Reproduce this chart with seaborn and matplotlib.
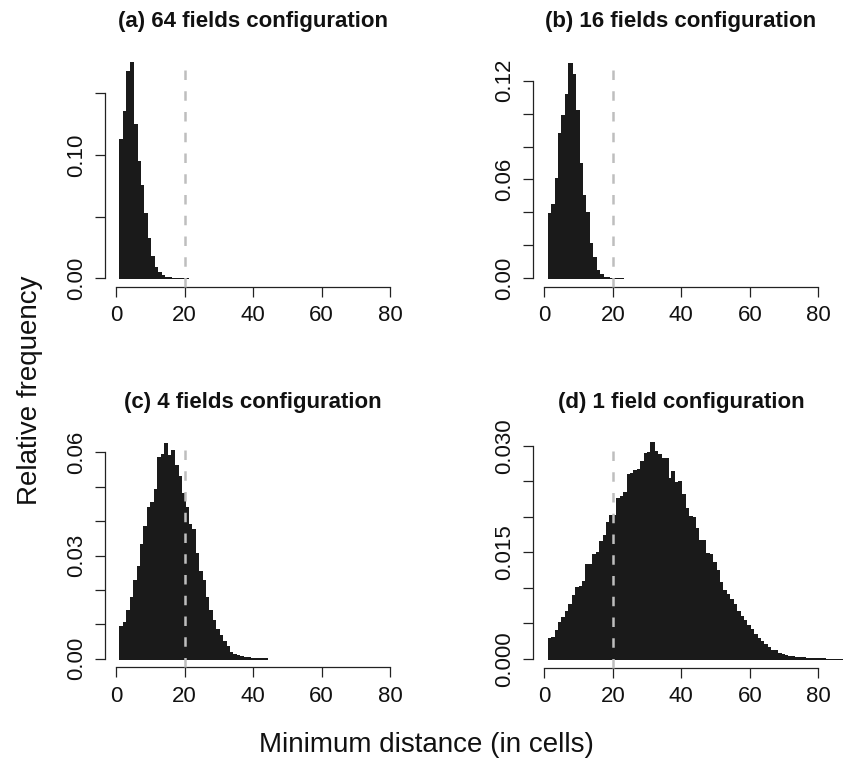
import numpy as np
import pandas as pd
import matplotlib
matplotlib.use("Agg")
import matplotlib.pyplot as plt
import seaborn as sns

# ---------------- data (relative frequency per 1-cell bin, bins start at 1) -------------
freq_a = [0.113, 0.136, 0.168, 0.175, 0.125, 0.095, 0.076, 0.053, 0.033, 0.018,
          0.0095, 0.0054, 0.0027, 0.0014, 0.0008, 0.0005, 0.0003, 0.0002, 0.0001, 0.0001]

freq_b = [0.0394, 0.045, 0.061, 0.088, 0.099, 0.112, 0.131, 0.124, 0.102, 0.070,
          0.0505, 0.040, 0.0216, 0.0127, 0.005, 0.0024, 0.001, 0.0006, 0.0003, 0.0002,
          0.0001, 0.0001]

freq_c = [0.0096, 0.0108, 0.0141, 0.018, 0.0229, 0.0269, 0.0332, 0.0386, 0.0442, 0.0456,
          0.0492, 0.0587, 0.0595, 0.0626, 0.0592, 0.0607, 0.0563, 0.0531, 0.0481, 0.044,
          0.0393, 0.0376, 0.0306, 0.0256, 0.0229, 0.018, 0.0141, 0.0112, 0.0087, 0.0069,
          0.0052, 0.0037, 0.002, 0.0014, 0.001, 0.0007, 0.0006, 0.0004, 0.0003, 0.0002,
          0.0002, 0.0001, 0.0001]

freq_d = [0.0029, 0.0031, 0.0041, 0.0052, 0.0059, 0.0067, 0.0078, 0.009, 0.0101, 0.0103,
          0.011, 0.0133, 0.0134, 0.0147, 0.015, 0.0166, 0.0174, 0.0192, 0.0202, 0.0203,
          0.0226, 0.0229, 0.0235, 0.026, 0.0261, 0.0266, 0.0267, 0.0279, 0.029, 0.0291,
          0.0305, 0.0292, 0.0288, 0.0283, 0.0282, 0.0254, 0.0265, 0.0249, 0.025, 0.0232,
          0.0213, 0.0201, 0.02, 0.0184, 0.0168, 0.0167, 0.0149, 0.0147, 0.0137, 0.0125,
          0.0109, 0.0097, 0.0092, 0.0084, 0.0077, 0.0068, 0.0061, 0.0055, 0.0048, 0.0042,
          0.0035, 0.0030, 0.0025, 0.0021, 0.0017, 0.0013, 0.0012, 0.0009, 0.00075, 0.0006,
          0.00047, 0.0004, 0.00033, 0.00028, 0.00024, 0.0002, 0.00017, 0.00015, 0.00012, 0.0001,
          0.00008, 0.00007, 0.00005, 0.00004, 0.00003, 0.00002]

titles = ["(a) 64 fields configuration", "(b) 16 fields configuration",
          "(c) 4 fields configuration", "(d) 1 field configuration"]

yticks_list = [[0.0, 0.05, 0.10, 0.15],
               [0.0, 0.02, 0.04, 0.06, 0.08, 0.10, 0.12],
               [0.0, 0.01, 0.02, 0.03, 0.04, 0.05, 0.06],
               [0.0, 0.005, 0.010, 0.015, 0.020, 0.025, 0.030]]
ylabels_list = [["0.00", "", "0.10", ""],
                ["0.00", "", "", "0.06", "", "", "0.12"],
                ["0.00", "", "", "0.03", "", "", "0.06"],
                ["0.000", "", "", "0.015", "", "", "0.030"]]
xticks = [0, 20, 40, 60, 80]
xticklabels = ["0", "20", "40", "60", "80"]
threshold = 20

all_freqs = [freq_a, freq_b, freq_c, freq_d]

# ---------------- layout (pixel geometry) ----------------
W, H = 849, 773
sns.set_theme(style="white")
plt.rcParams['font.family'] = ['Liberation Sans', 'DejaVu Sans']

fig = plt.figure(figsize=(W / 100, H / 100), dpi=100)
fig.patch.set_facecolor("white")

xs = 3.425  # px per x unit
# (left, x0, right, bottom, y0, yscale, top)
geoms = [
    (105, 116.0, 420, 286.7, 278.3, 1233.3, 45),
    (533, 544.3, 849, 286.7, 278.3, 1646.7, 45),
    (105, 116.0, 420, 667.2, 658.7, 3440.0, 425),
    (533, 544.3, 849, 667.5, 659.0, 7110.0, 425),
]
title_pos = [(253, 22), (681, 22), (253, 403), (681, 403)]

bar_color = "#1a1a1a"
for i in range(4):
    left, x0, right, bottom, y0, ys, top = geoms[i]
    ax = fig.add_axes([left / W, 1 - bottom / H, (right - left) / W, (bottom - top) / H])
    ax.set_facecolor("none")
    freqs = all_freqs[i]
    n = len(freqs)
    df = pd.DataFrame({"dist": [k + 1.5 for k in range(n)], "freq": freqs})
    edges = [float(k) for k in range(1, n + 2)]
    sns.histplot(data=df, x="dist", weights="freq", bins=edges, ax=ax,
                 color=bar_color, edgecolor=bar_color, linewidth=0.7, alpha=1.0)
    for p in ax.patches:
        p.set_antialiased(False)
    ax.set_xlim((left - x0) / xs, (right - x0) / xs)
    ylo = -(bottom - y0) / ys
    yhi = (y0 - top) / ys
    ax.set_ylim(ylo, yhi)
    ax.plot([threshold, threshold], [ylo, max(freqs)], color="#BEBEBE", lw=1.8,
            dashes=(3.8, 4.5), zorder=5, clip_on=False)
    ax.set_xlabel("")
    ax.set_ylabel("")
    for s in ["top", "right"]:
        ax.spines[s].set_visible(False)
    for s in ["left", "bottom"]:
        ax.spines[s].set_color("#222222")
        ax.spines[s].set_linewidth(0.9)
    ax.spines["left"].set_bounds(yticks_list[i][0], yticks_list[i][-1])
    ax.spines["bottom"].set_bounds(0, 80)
    ax.set_xticks(xticks)
    ax.set_xticklabels(xticklabels)
    ax.set_yticks(yticks_list[i])
    ax.set_yticklabels(ylabels_list[i], rotation=90, va="center")
    ax.tick_params(axis="both", which="major", length=7.2, width=0.9, color="#222222",
                   labelsize=16, labelcolor="#111111", direction="out",
                   left=True, bottom=True)
    ax.tick_params(axis="x", pad=6)
    ax.tick_params(axis="y", pad=6)
    ax.grid(False)
    tx, ty = title_pos[i]
    fig.text(tx / W, 1 - ty / H, titles[i], ha="center", va="center",
             fontsize=16, fontweight="bold", color="#111111")

fig.text(30 / W, 1 - 390 / H, "Relative frequency", rotation=90, ha="center",
         va="center", fontsize=20, color="#111111")
fig.text(426 / W, 1 - 745 / H, "Minimum distance (in cells)", ha="center",
         va="center", fontsize=20, color="#111111")

fig.savefig("out.png", dpi=100, facecolor="white")
